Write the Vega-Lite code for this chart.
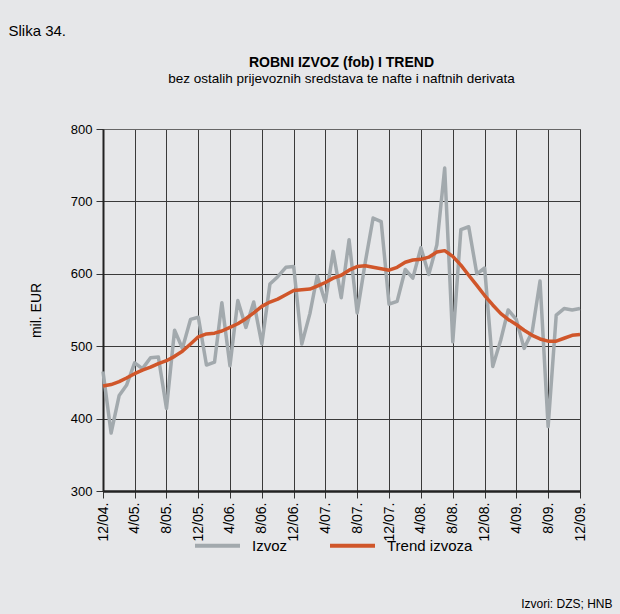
{
  "$schema": "https://vega.github.io/schema/vega-lite/v6.json",
  "width": 477,
  "height": 362,
  "autosize": "none",
  "padding": {"left": 103, "top": 129, "right": 40, "bottom": 123},
  "background": "#e6e7e9",
  "title": {
    "text": "ROBNI IZVOZ (fob) I TREND",
    "subtitle": "bez ostalih prijevoznih sredstava te nafte i naftnih derivata",
    "fontSize": 14,
    "fontWeight": "bold",
    "subtitleFontSize": 13.5,
    "color": "#000000",
    "subtitleColor": "#000000",
    "font": "Liberation Sans",
    "subtitleFont": "Liberation Sans",
    "anchor": "middle",
    "frame": "group",
    "offset": -62,
    "subtitlePadding": 2
  },
  "data": {
    "values": [
      {"mjesec": "2004-12-01", "Izvoz": 465, "Trend izvoza": 445},
      {"mjesec": "2005-01-01", "Izvoz": 380, "Trend izvoza": 447},
      {"mjesec": "2005-02-01", "Izvoz": 432, "Trend izvoza": 451},
      {"mjesec": "2005-03-01", "Izvoz": 446, "Trend izvoza": 456},
      {"mjesec": "2005-04-01", "Izvoz": 477, "Trend izvoza": 462},
      {"mjesec": "2005-05-01", "Izvoz": 469, "Trend izvoza": 467},
      {"mjesec": "2005-06-01", "Izvoz": 484, "Trend izvoza": 471},
      {"mjesec": "2005-07-01", "Izvoz": 485, "Trend izvoza": 476},
      {"mjesec": "2005-08-01", "Izvoz": 414, "Trend izvoza": 480},
      {"mjesec": "2005-09-01", "Izvoz": 522, "Trend izvoza": 486},
      {"mjesec": "2005-10-01", "Izvoz": 497, "Trend izvoza": 493},
      {"mjesec": "2005-11-01", "Izvoz": 537, "Trend izvoza": 503},
      {"mjesec": "2005-12-01", "Izvoz": 540, "Trend izvoza": 513},
      {"mjesec": "2006-01-01", "Izvoz": 474, "Trend izvoza": 517},
      {"mjesec": "2006-02-01", "Izvoz": 478, "Trend izvoza": 518},
      {"mjesec": "2006-03-01", "Izvoz": 560, "Trend izvoza": 521},
      {"mjesec": "2006-04-01", "Izvoz": 473, "Trend izvoza": 526},
      {"mjesec": "2006-05-01", "Izvoz": 563, "Trend izvoza": 531},
      {"mjesec": "2006-06-01", "Izvoz": 526, "Trend izvoza": 538},
      {"mjesec": "2006-07-01", "Izvoz": 561, "Trend izvoza": 546},
      {"mjesec": "2006-08-01", "Izvoz": 503, "Trend izvoza": 555},
      {"mjesec": "2006-09-01", "Izvoz": 586, "Trend izvoza": 561},
      {"mjesec": "2006-10-01", "Izvoz": 596, "Trend izvoza": 565},
      {"mjesec": "2006-11-01", "Izvoz": 609, "Trend izvoza": 571},
      {"mjesec": "2006-12-01", "Izvoz": 610, "Trend izvoza": 577},
      {"mjesec": "2007-01-01", "Izvoz": 503, "Trend izvoza": 578},
      {"mjesec": "2007-02-01", "Izvoz": 545, "Trend izvoza": 579},
      {"mjesec": "2007-03-01", "Izvoz": 597, "Trend izvoza": 583},
      {"mjesec": "2007-04-01", "Izvoz": 561, "Trend izvoza": 588},
      {"mjesec": "2007-05-01", "Izvoz": 631, "Trend izvoza": 594},
      {"mjesec": "2007-06-01", "Izvoz": 567, "Trend izvoza": 598},
      {"mjesec": "2007-07-01", "Izvoz": 647, "Trend izvoza": 605},
      {"mjesec": "2007-08-01", "Izvoz": 546, "Trend izvoza": 610},
      {"mjesec": "2007-09-01", "Izvoz": 616, "Trend izvoza": 611},
      {"mjesec": "2007-10-01", "Izvoz": 677, "Trend izvoza": 609},
      {"mjesec": "2007-11-01", "Izvoz": 672, "Trend izvoza": 607},
      {"mjesec": "2007-12-01", "Izvoz": 558, "Trend izvoza": 605},
      {"mjesec": "2008-01-01", "Izvoz": 562, "Trend izvoza": 609},
      {"mjesec": "2008-02-01", "Izvoz": 606, "Trend izvoza": 616},
      {"mjesec": "2008-03-01", "Izvoz": 594, "Trend izvoza": 619},
      {"mjesec": "2008-04-01", "Izvoz": 636, "Trend izvoza": 620},
      {"mjesec": "2008-05-01", "Izvoz": 599, "Trend izvoza": 623},
      {"mjesec": "2008-06-01", "Izvoz": 640, "Trend izvoza": 630},
      {"mjesec": "2008-07-01", "Izvoz": 746, "Trend izvoza": 632},
      {"mjesec": "2008-08-01", "Izvoz": 506, "Trend izvoza": 624},
      {"mjesec": "2008-09-01", "Izvoz": 661, "Trend izvoza": 612},
      {"mjesec": "2008-10-01", "Izvoz": 665, "Trend izvoza": 598},
      {"mjesec": "2008-11-01", "Izvoz": 600, "Trend izvoza": 584},
      {"mjesec": "2008-12-01", "Izvoz": 608, "Trend izvoza": 570},
      {"mjesec": "2009-01-01", "Izvoz": 472, "Trend izvoza": 557},
      {"mjesec": "2009-02-01", "Izvoz": 509, "Trend izvoza": 545},
      {"mjesec": "2009-03-01", "Izvoz": 550, "Trend izvoza": 537},
      {"mjesec": "2009-04-01", "Izvoz": 537, "Trend izvoza": 530},
      {"mjesec": "2009-05-01", "Izvoz": 497, "Trend izvoza": 522},
      {"mjesec": "2009-06-01", "Izvoz": 520, "Trend izvoza": 515},
      {"mjesec": "2009-07-01", "Izvoz": 590, "Trend izvoza": 510},
      {"mjesec": "2009-08-01", "Izvoz": 389, "Trend izvoza": 507},
      {"mjesec": "2009-09-01", "Izvoz": 543, "Trend izvoza": 507},
      {"mjesec": "2009-10-01", "Izvoz": 552, "Trend izvoza": 511},
      {"mjesec": "2009-11-01", "Izvoz": 550, "Trend izvoza": 515},
      {"mjesec": "2009-12-01", "Izvoz": 552, "Trend izvoza": 516}
    ]
  },
  "transform": [{"fold": ["Izvoz", "Trend izvoza"], "as": ["serija", "vrijednost"]}],
  "encoding": {
    "y": {
      "field": "vrijednost",
      "type": "quantitative",
      "scale": {"domain": [300, 800], "nice": false, "zero": false},
      "axis": {
        "title": "mil. EUR",
        "values": [300, 400, 500, 600, 700, 800],
        "grid": true,
        "gridColor": "#3a3a3a",
        "gridWidth": 1,
        "gridOpacity": 1,
        "tickSize": 7,
        "tickColor": "#333333",
        "labelPadding": 4,
        "labelFontSize": 13,
        "labelColor": "#000000",
        "titleFontSize": 14,
        "titleFontWeight": "normal",
        "titleColor": "#000000",
        "titlePadding": 27,
        "domainColor": "#222222",
        "domainWidth": 2
      }
    },
    "color": {
      "field": "serija",
      "type": "nominal",
      "scale": {"domain": ["Izvoz", "Trend izvoza"], "range": ["#a2a9ad", "#d0562a"]},
      "legend": {
        "title": null,
        "orient": "none",
        "legendX": 90,
        "legendY": 392,
        "direction": "horizontal",
        "symbolType": "stroke",
        "symbolSize": 2025,
        "symbolStrokeWidth": 4,
        "labelFontSize": 15,
        "labelColor": "#000000",
        "labelOffset": 10,
        "columnPadding": 34
      }
    }
  },
  "layer": [
    {
      "transform": [{"filter": "datum.serija === 'Izvoz'"}],
      "mark": {"type": "line", "strokeWidth": 3.5, "strokeJoin": "round"},
      "encoding": {
        "x": {
          "field": "mjesec",
          "type": "temporal",
          "scale": {"type": "utc", "domain": [{"year": 2004, "month": 12, "date": 1, "utc": true}, {"year": 2009, "month": 12, "date": 1, "utc": true}], "nice": false},
          "axis": {
            "orient": "bottom",
            "values": [
              {"year": 2004, "month": 12, "date": 1, "utc": true},
              {"year": 2005, "month": 4, "date": 1, "utc": true},
              {"year": 2005, "month": 8, "date": 1, "utc": true},
              {"year": 2005, "month": 12, "date": 1, "utc": true},
              {"year": 2006, "month": 4, "date": 1, "utc": true},
              {"year": 2006, "month": 8, "date": 1, "utc": true},
              {"year": 2006, "month": 12, "date": 1, "utc": true},
              {"year": 2007, "month": 4, "date": 1, "utc": true},
              {"year": 2007, "month": 8, "date": 1, "utc": true},
              {"year": 2007, "month": 12, "date": 1, "utc": true},
              {"year": 2008, "month": 4, "date": 1, "utc": true},
              {"year": 2008, "month": 8, "date": 1, "utc": true},
              {"year": 2008, "month": 12, "date": 1, "utc": true},
              {"year": 2009, "month": 4, "date": 1, "utc": true},
              {"year": 2009, "month": 8, "date": 1, "utc": true},
              {"year": 2009, "month": 12, "date": 1, "utc": true}
            ],
            "format": "%-m/%y.",
            "labelAngle": 270,
            "labelAlign": "right",
            "labelBaseline": "middle",
            "labelPadding": 4,
            "labelFontSize": 14,
            "labelColor": "#000000",
            "labelOverlap": false,
            "grid": true,
            "gridColor": "#3a3a3a",
            "gridWidth": 1,
            "gridOpacity": 1,
            "tickSize": 7,
            "tickColor": "#333333",
            "domainColor": "#222222",
            "domainWidth": 2.5,
            "title": "Izvori: DZS; HNB",
            "titleFontSize": 12,
            "titleFontWeight": "normal",
            "titleColor": "#000000",
            "titleAlign": "right",
            "titleBaseline": "alphabetic",
            "titleX": 509,
            "titleY": 116
          }
        }
      }
    },
    {
      "transform": [{"filter": "datum.serija === 'Trend izvoza'"}],
      "mark": {"type": "line", "strokeWidth": 3.5, "strokeJoin": "round"},
      "encoding": {
        "x": {
          "field": "mjesec",
          "type": "temporal",
          "axis": {
            "orient": "top",
            "labels": false,
            "ticks": false,
            "grid": false,
            "domain": true,
            "domainColor": "#666666",
            "domainWidth": 1,
            "title": "Slika 34.",
            "titleFontSize": 15,
            "titleFontWeight": "normal",
            "titleColor": "#000000",
            "titleAlign": "left",
            "titleBaseline": "alphabetic",
            "titleX": -95,
            "titleY": -94
          }
        }
      }
    }
  ],
  "resolve": {"axis": {"x": "independent"}},
  "config": {
    "font": "Liberation Sans",
    "view": {"stroke": null}
  }
}
